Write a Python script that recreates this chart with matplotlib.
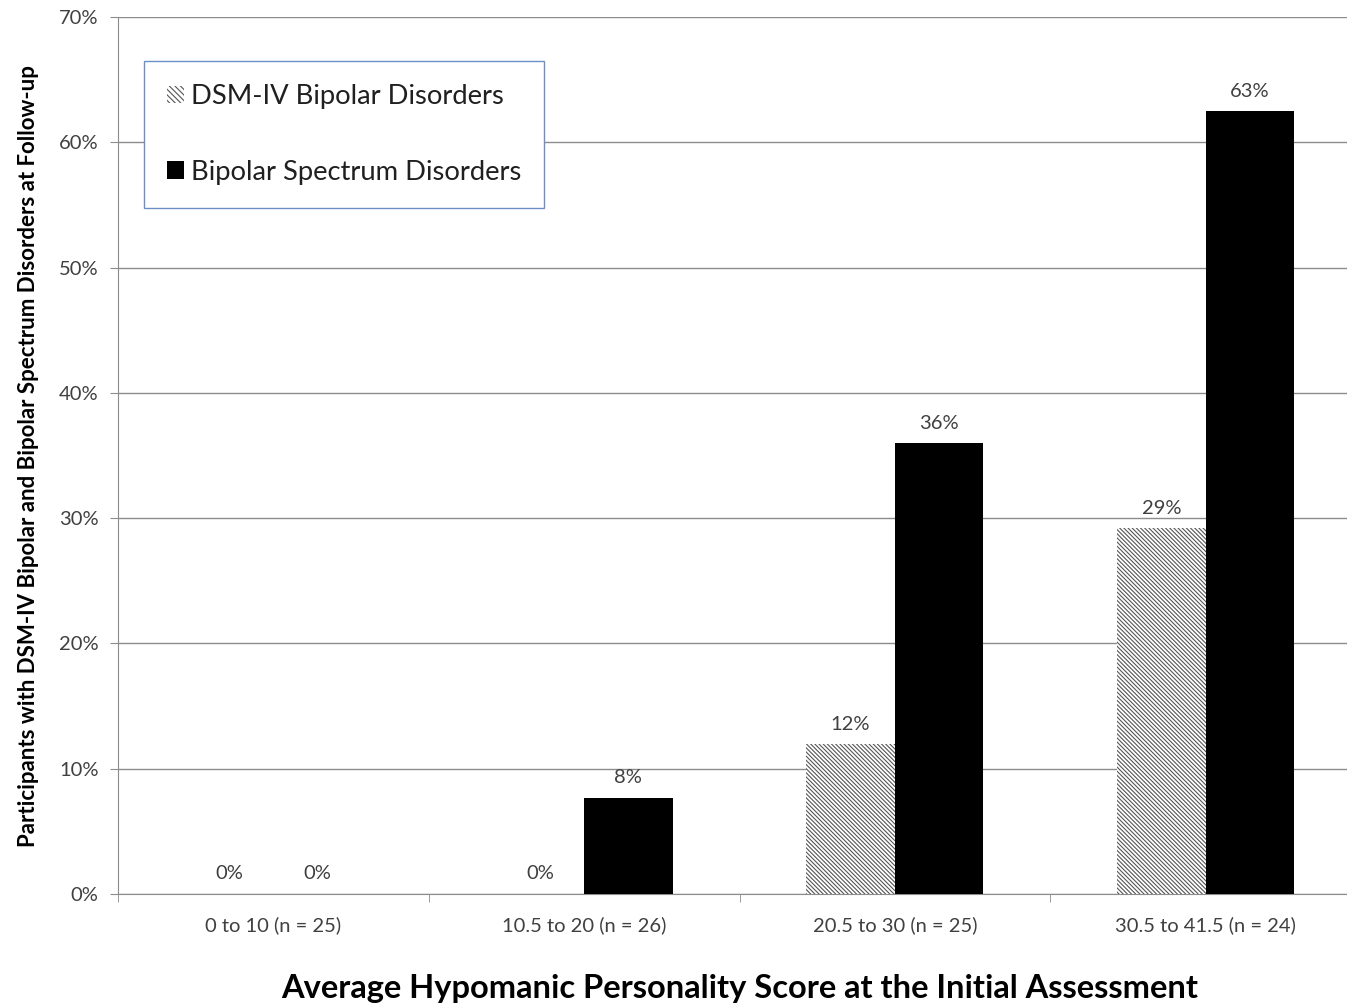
import math
import numpy as np
import matplotlib
matplotlib.use('Agg')
import matplotlib.pyplot as plt
from matplotlib.patches import Patch

# Data: percentage of participants at follow-up
groups = ['0 to 10 (n = 25)', '10.5 to 20 (n = 26)', '20.5 to 30 (n = 25)', '30.5 to 41.5 (n = 24)']
dsm_iv = [0.0, 0.0, 12.0, 29.2]
spectrum = [0.0, 7.7, 36.0, 62.5]
series_names = ['DSM-IV Bipolar Disorders', 'Bipolar Spectrum Disorders']

plt.rcParams['font.family'] = ['Lato', 'DejaVu Sans']
plt.rcParams['hatch.linewidth'] = 0.8
plt.rcParams['hatch.color'] = '#555555'

text_col = '#404040'
grid_col = '#8c8c8c'

fig = plt.figure(figsize=(13.47, 10.05), dpi=100)
# axes runs a bit past the right edge, like the original
ax = fig.add_axes([0.0876, 0.1104, 0.9228, 0.8726])

x = np.arange(len(groups))
w = 0.285
hatch = '\\' * 8
b1 = ax.bar(x - w / 2, dsm_iv, w, color='white', edgecolor='#555555', linewidth=0,
            hatch=hatch, zorder=3)
b2 = ax.bar(x + w / 2, spectrum, w, color='black', linewidth=0, zorder=3)

def pct(v):
    return '{}%'.format(int(math.floor(v + 0.5)))

for bars, vals in [(b1, dsm_iv), (b2, spectrum)]:
    for rect, v in zip(bars, vals):
        off = 9 if v == 0 else 8
        ax.annotate(pct(v), (rect.get_x() + rect.get_width() / 2, v),
                    xytext=(0, off), textcoords='offset points',
                    ha='center', va='bottom', fontsize=14.5, color=text_col)

ax.set_xlim(-0.5, len(groups) - 0.5)
ax.set_ylim(0, 70)
ax.set_yticks(np.arange(0, 71, 10))
ax.set_yticklabels(['{}%'.format(t) for t in range(0, 71, 10)])
ax.set_xticks(x)
ax.set_xticklabels(groups)
ax.set_xticks(np.arange(-0.5, len(groups) - 0.4, 1.0), minor=True)
ax.tick_params(axis='x', which='major', length=0, pad=16, labelsize=14.5, labelcolor=text_col)
ax.tick_params(axis='x', which='minor', length=6, color=grid_col, direction='out')
ax.tick_params(axis='y', length=6, color=grid_col, pad=8, labelsize=14.5, labelcolor=text_col)

ax.yaxis.grid(True, color=grid_col, linewidth=1, zorder=0)
ax.set_axisbelow(True)
for s in ['top', 'right']:
    ax.spines[s].set_visible(False)
for s in ['left', 'bottom']:
    ax.spines[s].set_color(grid_col)

ax.set_xlabel('Average Hypomanic Personality Score at the Initial Assessment',
              fontsize=23.5, fontweight='bold', color='black', labelpad=29)
ax.set_ylabel('Participants with DSM-IV Bipolar and Bipolar Spectrum Disorders at Follow-up',
              fontsize=16, fontweight='bold', color='black', labelpad=14)

handles = [Patch(facecolor='white', edgecolor='#555555', linewidth=0, hatch='\\' * 6),
           Patch(facecolor='black', linewidth=0)]
leg = ax.legend(handles, series_names, loc='upper left', bbox_to_anchor=(0.021, 0.95),
                borderaxespad=0, fontsize=19.7, frameon=True, fancybox=False,
                handlelength=0.6, handleheight=0.6, handletextpad=0.25,
                labelspacing=1.85, borderpad=0.85, framealpha=1)
leg.get_frame().set_edgecolor('#6d8fc9')
leg.get_frame().set_linewidth(1.0)
for t in leg.get_texts():
    t.set_color('#202020')

fig.savefig('out.png', dpi=100)
